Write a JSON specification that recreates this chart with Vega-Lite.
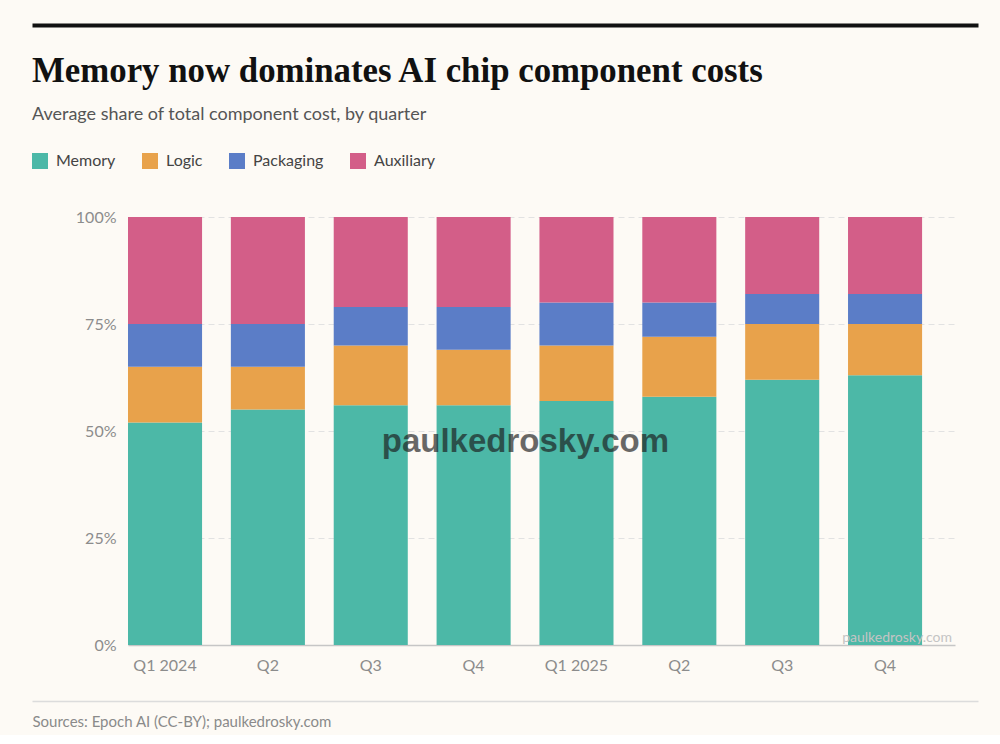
{
  "$schema": "https://vega.github.io/schema/vega-lite/v6.json",
  "background": "#fdfaf5",
  "padding": {"left": 32, "top": 25, "right": 22, "bottom": 6},
  "width": 827,
  "height": 428,
  "config": {
    "view": {"stroke": null},
    "font": "Lato"
  },
  "title": {
    "text": "Memory now dominates AI chip component costs",
    "subtitle": "Average share of total component cost, by quarter",
    "anchor": "start",
    "frame": "group",
    "dx": -96,
    "offset": -100,
    "font": "Liberation Serif",
    "fontSize": 34.8,
    "fontWeight": "bold",
    "color": "#111111",
    "subtitleFont": "Lato",
    "subtitleFontSize": 18,
    "subtitleColor": "#555555",
    "subtitlePadding": 16
  },
  "layer": [
    {
      "layer": [
        {
          "data": {
            "values": [
              {"quarter": "Q1 2024", "component": "Memory", "share": 52},
              {"quarter": "Q1 2024", "component": "Logic", "share": 13},
              {"quarter": "Q1 2024", "component": "Packaging", "share": 10},
              {"quarter": "Q1 2024", "component": "Auxiliary", "share": 25},
              {"quarter": "Q2 2024", "component": "Memory", "share": 55},
              {"quarter": "Q2 2024", "component": "Logic", "share": 10},
              {"quarter": "Q2 2024", "component": "Packaging", "share": 10},
              {"quarter": "Q2 2024", "component": "Auxiliary", "share": 25},
              {"quarter": "Q3 2024", "component": "Memory", "share": 56},
              {"quarter": "Q3 2024", "component": "Logic", "share": 14},
              {"quarter": "Q3 2024", "component": "Packaging", "share": 9},
              {"quarter": "Q3 2024", "component": "Auxiliary", "share": 21},
              {"quarter": "Q4 2024", "component": "Memory", "share": 56},
              {"quarter": "Q4 2024", "component": "Logic", "share": 13},
              {"quarter": "Q4 2024", "component": "Packaging", "share": 10},
              {"quarter": "Q4 2024", "component": "Auxiliary", "share": 21},
              {"quarter": "Q1 2025", "component": "Memory", "share": 57},
              {"quarter": "Q1 2025", "component": "Logic", "share": 13},
              {"quarter": "Q1 2025", "component": "Packaging", "share": 10},
              {"quarter": "Q1 2025", "component": "Auxiliary", "share": 20},
              {"quarter": "Q2 2025", "component": "Memory", "share": 58},
              {"quarter": "Q2 2025", "component": "Logic", "share": 14},
              {"quarter": "Q2 2025", "component": "Packaging", "share": 8},
              {"quarter": "Q2 2025", "component": "Auxiliary", "share": 20},
              {"quarter": "Q3 2025", "component": "Memory", "share": 62},
              {"quarter": "Q3 2025", "component": "Logic", "share": 13},
              {"quarter": "Q3 2025", "component": "Packaging", "share": 7},
              {"quarter": "Q3 2025", "component": "Auxiliary", "share": 18},
              {"quarter": "Q4 2025", "component": "Memory", "share": 63},
              {"quarter": "Q4 2025", "component": "Logic", "share": 12},
              {"quarter": "Q4 2025", "component": "Packaging", "share": 7},
              {"quarter": "Q4 2025", "component": "Auxiliary", "share": 18}
            ]
          },
          "transform": [
            {"calculate": "indexof(['Memory', 'Logic', 'Packaging', 'Auxiliary'], datum.component)", "as": "stackOrder"}
          ],
          "mark": {"type": "bar"},
          "encoding": {
            "x": {
              "field": "quarter",
              "type": "nominal",
              "scale": {
                "domain": ["Q1 2024", "Q2 2024", "Q3 2024", "Q4 2024", "Q1 2025", "Q2 2025", "Q3 2025", "Q4 2025"],
                "paddingInner": 0.28,
                "paddingOuter": 0.16,
                "align": 0
              },
              "axis": {
                "title": null,
                "labelAngle": 0,
                "labelExpr": "indexof(datum.value, 'Q1') == 0 ? datum.value : slice(datum.value, 0, 2)",
                "labelFont": "Lato",
                "labelFontSize": 16,
                "labelColor": "#8c8c8c",
                "labelPadding": 12,
                "ticks": false,
                "domainColor": "#c6c6c6",
                "domainWidth": 1.5,
                "grid": false
              }
            },
            "y": {
              "field": "share",
              "type": "quantitative",
              "stack": "zero",
              "scale": {"domain": [0, 100], "nice": false},
              "axis": {
                "title": null,
                "values": [0, 25, 50, 75, 100],
                "labelExpr": "datum.value + '%'",
                "labelFont": "Lato",
                "labelFontSize": 16,
                "labelColor": "#8c8c8c",
                "labelPadding": 12,
                "ticks": false,
                "domain": false,
                "grid": true,
                "gridColor": "#e2e2e2",
                "gridDash": [6, 4],
                "gridWidth": 1
              }
            },
            "order": {"field": "stackOrder", "type": "quantitative"},
            "color": {
              "field": "component",
              "type": "nominal",
              "sort": ["Memory", "Logic", "Packaging", "Auxiliary"],
              "scale": {
                "domain": ["Memory", "Logic", "Packaging", "Auxiliary"],
                "range": ["#4cb8a7", "#e8a24b", "#5b7dc7", "#d35e88"]
              },
              "legend": {
                "title": null,
                "orient": "none",
                "direction": "horizontal",
                "legendX": -96,
                "legendY": -64,
                "symbolType": "square",
                "symbolSize": 256,
                "symbolStrokeWidth": 0,
                "symbolOpacity": 1,
                "labelFont": "Lato",
                "labelFontSize": 16,
                "labelColor": "#444444",
                "labelOffset": 8,
                "columnPadding": 26
              }
            }
          }
        },
        {
          "data": {"values": [{"t": "paulkedrosky.com"}]},
          "mark": {
            "type": "text",
            "font": "Liberation Sans",
            "fontWeight": "bold",
            "fontSize": 33,
            "color": "#1a1a1a",
            "opacity": 0.65,
            "align": "center",
            "baseline": "middle"
          },
          "encoding": {
            "x": {"datum": "Q4 2024", "type": "nominal", "bandPosition": 1.2},
            "y": {"datum": 47.4, "type": "quantitative"},
            "text": {"field": "t"}
          }
        },
        {
          "data": {"values": [{"t": "paulkedrosky.com"}]},
          "mark": {
            "type": "text",
            "font": "Lato",
            "fontSize": 14,
            "color": "#c4c4c4",
            "align": "right",
            "baseline": "middle"
          },
          "encoding": {
            "x": {"datum": "Q4 2025", "type": "nominal", "bandPosition": 1.404},
            "y": {"datum": 1.6, "type": "quantitative"},
            "text": {"field": "t"}
          }
        }
      ]
    },
    {
      "data": {"values": []},
      "mark": {"type": "point"},
      "encoding": {
        "x": {
          "datum": 0,
          "type": "quantitative",
          "scale": {"domain": [0, 1], "range": [-96, 850]},
          "axis": {
            "orient": "top",
            "offset": 192,
            "domain": true,
            "domainColor": "#111111",
            "domainWidth": 4,
            "labels": false,
            "ticks": false,
            "grid": false,
            "title": null
          }
        }
      }
    },
    {
      "data": {"values": []},
      "mark": {"type": "point"},
      "encoding": {
        "x": {
          "datum": 0,
          "type": "quantitative",
          "scale": {"domain": [0, 1], "range": [-96, 850]},
          "axis": {
            "orient": "bottom",
            "offset": 56,
            "domain": true,
            "domainColor": "#dcdcdc",
            "domainWidth": 1.5,
            "labels": false,
            "ticks": false,
            "grid": false,
            "title": "Sources: Epoch AI (CC-BY); paulkedrosky.com",
            "titleAnchor": "start",
            "titleFont": "Lato",
            "titleFontSize": 15,
            "titleFontWeight": "normal",
            "titleColor": "#8a8a8a",
            "titlePadding": 13
          }
        }
      }
    }
  ],
  "resolve": {"scale": {"x": "independent"}, "axis": {"x": "independent"}}
}
